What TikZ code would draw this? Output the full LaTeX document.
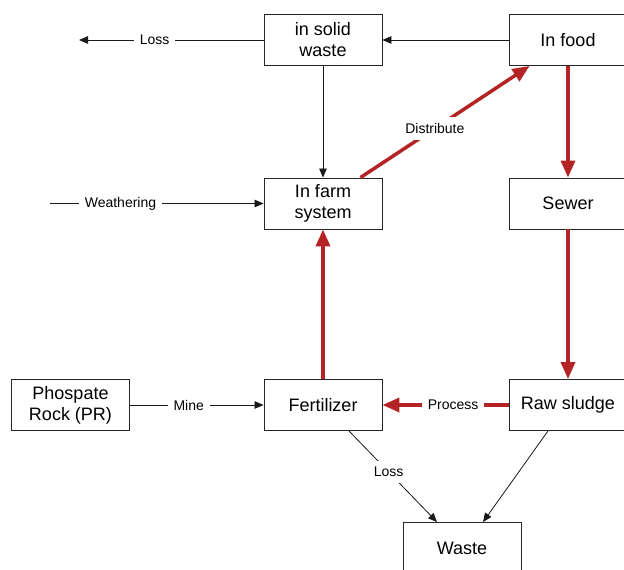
\documentclass[tikz,border=0pt]{standalone}
\usepackage{fontspec}
\setmainfont{Liberation Sans}
\usetikzlibrary{arrows.meta,calc}
\definecolor{flowred}{RGB}{180,36,36}
\begin{document}
\begin{tikzpicture}[x=1bp,y=-1bp,
  box/.style={draw=black!85, line width=0.9bp, minimum width=118bp, minimum height=51bp,
    align=center, inner sep=0pt, font=\fontsize{18bp}{21bp}\selectfont},
  flow/.style={draw=black!90, line width=0.8bp, -{Triangle[length=9bp,width=7.5bp]}},
  plain/.style={draw=black!90, line width=0.8bp},
  main/.style={draw=flowred, line width=3.5bp, -{Triangle[length=17bp,width=14bp]}},
  lbl/.style={fill=white, inner sep=6bp, font=\fontsize{14bp}{16bp}\selectfont}]
  \useasboundingbox (0,0) rectangle (624,570);
  \fill[white] (0,0) rectangle (624,570);
  \clip (0,0) rectangle (624,570);

  % boxes
  \node[box] (solid)  at (323,40)    {in solid\\waste};
  \node[box] (food)   at (568,40)    {In food};
  \node[box] (farm)   at (323,203.5) {In farm\\system};
  \node[box] (sewer)  at (568,203.5) {Sewer};
  \node[box] (fert)   at (323,405)   {Fertilizer};
  \node[box] (sludge) at (568,405)   {Raw sludge};
  \node[box] (rock)   at (70.5,405)  {Phospate\\Rock (PR)};
  \node[box] (waste)  at (462,548)   {Waste};

  % free ends
  \coordinate (lossend) at (79,40);
  \coordinate (wstart)  at (50,203.5);

  % black flows
  \draw[flow] (food.west) -- (solid.east);
  \draw[flow] (solid.west) -- node[lbl, pos=0.59] {Loss} (lossend);
  \draw[flow] (solid.south) -- (farm.north);
  \draw[flow] (wstart) -- node[lbl, pos=0.33] {Weathering} (farm.west);
  \draw[flow] (rock.east) -- node[lbl, pos=0.44] {Mine} (fert.west);
  \draw[flow] ($(fert.south)+(26,0)$) -- node[lbl, pos=0.45] {Loss} ($(waste.north)+(-25,0)$);
  \draw[flow] ($(sludge.south)+(-20,0)$) -- ($(waste.north)+(21,0)$);

  % red main cycle
  \draw[main] ($(farm.north east)+(-22,0)$) -- node[lbl, pos=0.44] {Distribute} ($(food.south west)+(21,0)$);
  \draw[main] (food.south) -- (sewer.north);
  \draw[main] (sewer.south) -- (sludge.north);
  \draw[main] (sludge.west) -- node[lbl, pos=0.44] {Process} (fert.east);
  \draw[main] (fert.north) -- (farm.south);
\end{tikzpicture}
\end{document}
